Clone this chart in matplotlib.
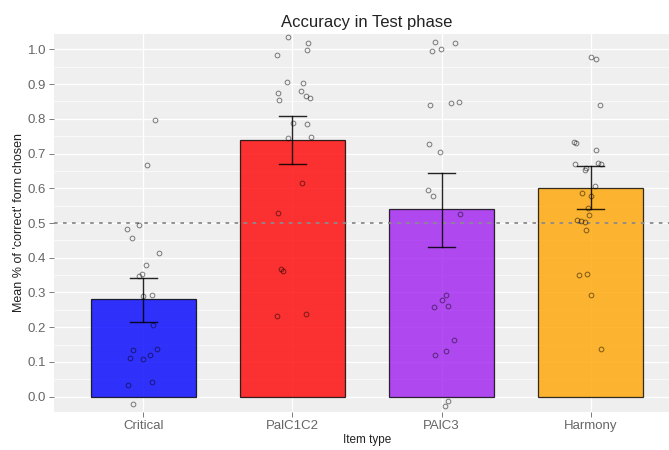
import matplotlib
matplotlib.use('Agg')
import matplotlib.pyplot as plt
import numpy as np

# bar means and error bar limits per item type
categories = ['Critical', 'PalC1C2', 'PAlC3', 'Harmony']
bar_colors = ['blue', 'red', '#A020F0', 'orange']
means = [0.282, 0.740, 0.539, 0.602]
err_low = [0.216, 0.671, 0.432, 0.539]
err_high = [0.343, 0.807, 0.643, 0.663]

# individual participant scores (as plotted, with jitter offsets)
critical_y = [0.796, 0.667, 0.484, 0.493, 0.458, 0.414, 0.378, 0.354, 0.347, 0.294,
              0.289, 0.207, 0.135, 0.138, 0.112, 0.109, 0.121, 0.035, 0.041, -0.020]
critical_dx = [0.08, 0.025, -0.107, -0.027, -0.076, 0.107, 0.018, -0.009, -0.033, 0.058,
               -0.002, 0.067, -0.067, 0.092, -0.087, -0.002, 0.047, -0.102, 0.06, -0.069]

pal12_y = [1.036, 1.017, 0.998, 0.983, 0.907, 0.904, 0.880, 0.875, 0.854, 0.861, 0.865,
           0.787, 0.785, 0.745, 0.748, 0.614, 0.529, 0.368, 0.361, 0.233, 0.239]
pal12_dx = [-0.029, 0.105, 0.10, -0.107, -0.04, 0.072, 0.06, -0.096, -0.092, 0.116, 0.094,
            0.005, 0.10, -0.029, 0.123, 0.067, -0.10, -0.074, -0.062, -0.107, 0.094]

pal3_y = [1.021, 1.017, 0.995, 1.002, 0.841, 0.844, 0.848, 0.726, 0.704, 0.595, 0.579,
          0.527, 0.294, 0.278, 0.258, 0.260, 0.162, 0.131, 0.121, -0.011, -0.028]
pal3_dx = [-0.045, 0.089, -0.062, -0.005, -0.078, 0.062, 0.119, -0.085, -0.011, -0.094, -0.056,
           0.123, 0.033, 0.005, -0.049, 0.045, 0.085, 0.033, -0.045, 0.045, 0.022]

harmony_y = [0.979, 0.973, 0.841, 0.731, 0.733, 0.709, 0.671, 0.673, 0.671, 0.659, 0.652, 0.606,
             0.587, 0.577, 0.544, 0.524, 0.510, 0.505, 0.502, 0.481, 0.349, 0.352, 0.294, 0.137]
harmony_dx = [0.005, 0.038, 0.06, -0.10, -0.109, 0.038, -0.107, 0.049, 0.072, -0.029, -0.04, 0.027,
              -0.056, 0.0, -0.018, -0.011, -0.092, -0.062, -0.04, -0.029, -0.078, -0.022, 0.0, 0.067]

points_y = [critical_y, pal12_y, pal3_y, harmony_y]
points_dx = [critical_dx, pal12_dx, pal3_dx, harmony_dx]

plt.rcParams['font.family'] = ['Liberation Sans', 'DejaVu Sans']

fig = plt.figure(figsize=(6.69, 4.5), dpi=100)
# panel runs slightly past the right edge, as in the reference
ax = fig.add_axes([54 / 669, 1 - 412 / 450, (680 - 54) / 669, (412 - 34) / 450])
ax.set_facecolor('#EFEFEF')

x = np.arange(1, len(categories) + 1)

ax.set_yticks(np.arange(0, 1.01, 0.1))
ax.set_yticks(np.arange(0.05, 1.0, 0.1), minor=True)
ax.grid(which='major', color='white', linewidth=0.9)
ax.grid(which='minor', color='white', linewidth=0.45)
ax.set_axisbelow(True)

ax.bar(x, means, width=0.7, color=bar_colors, alpha=0.8,
       edgecolor='black', linewidth=0.9, zorder=2)

ax.axhline(0.5, color='#8a8a8a', linestyle=(0, (2, 3)), linewidth=1.3, zorder=3)

for i in range(len(categories)):
    px = x[i] + np.array(points_dx[i])
    ax.plot(px, points_y[i], 'o', markersize=3.4, markerfacecolor='none',
            markeredgecolor='black', markeredgewidth=0.7, alpha=0.5, zorder=4)

for i in range(len(categories)):
    ax.plot([x[i], x[i]], [err_low[i], err_high[i]], color='black', linewidth=1.0,
            alpha=0.85, zorder=5)
    for yv in (err_low[i], err_high[i]):
        ax.plot([x[i] - 0.09, x[i] + 0.09], [yv, yv], color='black', linewidth=1.0,
                alpha=0.85, zorder=5)

ax.set_xlim(0.4, 4.6)
ax.set_ylim(-0.044, 1.044)
ax.set_xticks(x)
ax.set_xticklabels(categories)
ax.set_yticklabels(['%.1f' % v for v in np.arange(0, 1.01, 0.1)])
ax.tick_params(which='major', length=3.6, width=0.6, color='#666666',
               labelsize=9.5, labelcolor='#666666')
ax.tick_params(axis='x', pad=2.5)
ax.tick_params(axis='y', pad=2)
ax.tick_params(which='minor', length=0)
for s in ax.spines.values():
    s.set_visible(False)

ax.set_title('Accuracy in Test phase', fontsize=12, color='#222222', pad=5)
ax.set_xlabel('Item type', fontsize=8.5, color='#222222', labelpad=1)
ax.set_ylabel("Mean % of 'correct' form chosen", fontsize=9, color='#222222', labelpad=2)

fig.savefig('out.png', dpi=100)
